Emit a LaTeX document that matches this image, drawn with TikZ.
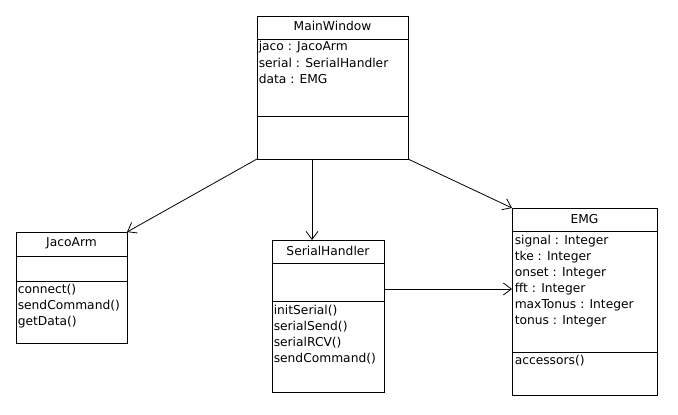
\documentclass[tikz,border=0pt]{standalone}
\usepackage{fontspec}
\setmainfont{DejaVu Sans}
\usetikzlibrary{arrows.meta}
\begin{document}
\begin{tikzpicture}[x=0.75pt,y=-0.75pt,
  box/.style={draw,line width=0.75pt,inner sep=0pt,minimum width=0pt},
  txt/.style={inner sep=0pt,anchor=west,font=\fontsize{9.2}{11}\selectfont},
  ttl/.style={inner sep=0pt,font=\fontsize{9.2}{11}\selectfont},
  assoc/.style={line width=0.6pt,-{Straight Barb[length=6pt,width=9pt,line width=0.6pt]}}]
\useasboundingbox (0,0) rectangle (678,414);
% MainWindow
\draw[line width=0.75pt] (257,16) rectangle (408,159);
\coordinate (mwsw) at (257,159);
\coordinate (mwse) at (408,159);
\coordinate (mws) at (312,159);
\draw[line width=0.75pt] (257,39) -- (408,39) (257,116.5) -- (408,116.5);
\node[ttl] (mwt) at (332.5,26) {MainWindow};
\node[txt] (mw1) at (258.5,47) {jaco : JacoArm};
\node[txt] (mw2) at (258.5,63) {serial : SerialHandler};
\node[txt] (mw3) at (258.5,79) {data : EMG};
% JacoArm
\draw[line width=0.75pt] (16,232) rectangle (127,343.5);
\coordinate (jne) at (127,232);
\draw[line width=0.75pt] (16,256.5) -- (127,256.5) (16,281.5) -- (127,281.5);
\node[ttl] (jt) at (71.5,243) {JacoArm};
\node[txt] (j1) at (17.5,290) {connect()};
\node[txt] (j2) at (17.5,306) {sendCommand()};
\node[txt] (j3) at (17.5,322) {getData()};
% SerialHandler
\draw[line width=0.75pt] (272,240) rectangle (384,392);
\coordinate (sn) at (312,240);
\coordinate (se) at (384,289);
\draw[line width=0.75pt] (272,263.5) -- (384,263.5) (272,301) -- (384,301);
\node[ttl] (st) at (328,251) {SerialHandler};
\node[txt] (s1) at (273.5,311) {initSerial()};
\node[txt] (s2) at (273.5,327) {serialSend()};
\node[txt] (s3) at (273.5,343) {serialRCV()};
\node[txt] (s4) at (273.5,359) {sendCommand()};
% EMG
\draw[line width=0.75pt] (512,208) rectangle (657,395);
\coordinate (enw) at (512,208);
\coordinate (ew) at (512,289);
\draw[line width=0.75pt] (512,231.5) -- (657,231.5) (512,352.5) -- (657,352.5);
\node[ttl] (et) at (584.5,219) {EMG};
\node[txt] (e1) at (514.5,241) {signal : Integer};
\node[txt] (e2) at (514.5,257) {tke : Integer};
\node[txt] (e3) at (514.5,273) {onset : Integer};
\node[txt] (e4) at (514.5,289) {fft : Integer};
\node[txt] (e5) at (514.5,305) {maxTonus : Integer};
\node[txt] (e6) at (514.5,321) {tonus : Integer};
\node[txt] (e7) at (514.5,361) {accessors()};
% associations
\draw[assoc] (mwsw) -- (jne);
\draw[assoc] (mws) -- (sn);
\draw[assoc] (mwse) -- (enw);
\draw[assoc] (se) -- (ew);
\end{tikzpicture}
\end{document}
